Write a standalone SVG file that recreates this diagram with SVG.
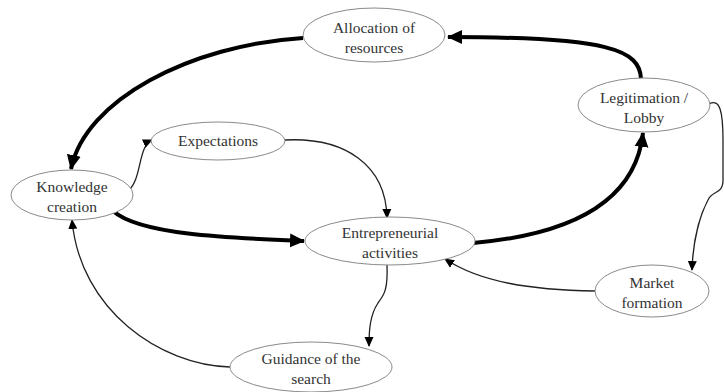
<svg xmlns="http://www.w3.org/2000/svg" width="724" height="392" viewBox="0 0 724 392">
<style>
.n ellipse{fill:#fff;stroke:#8a8a8a;stroke-width:1}
.n text{font-family:'Liberation Serif','DejaVu Serif',serif;font-size:15.5px;fill:#333;text-anchor:middle}
.thick{fill:none;stroke:#000;stroke-width:4}
.thin{fill:none;stroke:#222;stroke-width:1.3}
</style>
<defs>
<marker id="ab" markerUnits="userSpaceOnUse" markerWidth="16" markerHeight="16" viewBox="0 0 16 16" refX="14" refY="8" orient="auto">
<path d="M0,1 L15,8 L0,15 Z" fill="#000"/>
</marker>
<marker id="as" markerUnits="userSpaceOnUse" markerWidth="10" markerHeight="10" viewBox="0 0 10 10" refX="9" refY="5" orient="auto">
<path d="M0,0.5 L10,5 L0,9.5 Z" fill="#000"/>
</marker>
</defs>
<g id="connectors">
<path class="thick" d="M641 79 C640 50 610 37 448 37" marker-end="url(#ab)"/>
<path class="thick" d="M303 38 C190 45 85 100 71 169" marker-end="url(#ab)"/>
<path class="thick" d="M113 211 C140 235 230 238 304 241" marker-end="url(#ab)"/>
<path class="thick" d="M473 243 C565 235 635 205 643 133" marker-end="url(#ab)"/>
<path class="thin" d="M129 190 C142 178 138 146 152 140" marker-end="url(#as)"/>
<path class="thin" d="M285 140 C345 137 386 165 387 218" marker-end="url(#as)"/>
<path class="thin" d="M709 104 C720 98 723 112 723 140 L723 180 C723 195 712 190 708 200 C700 215 693 240 692 270" marker-end="url(#as)"/>
<path class="thin" d="M595 291 C530 290 480 282 445 259" marker-end="url(#as)"/>
<path class="thin" d="M387 265 C388 290 384 295 378 303 C370 315 369 330 369 346" marker-end="url(#as)"/>
<path class="thin" d="M230 367 C160 365 80 310 72 220" marker-end="url(#as)"/>
</g>
<g id="allocation" class="n"><ellipse cx="374" cy="35" rx="71" ry="27"/><text x="374" y="33">Allocation of</text><text x="374" y="53">resources</text></g>
<g id="legitimation" class="n"><ellipse cx="644" cy="105" rx="66" ry="27"/><text x="644" y="103">Legitimation /</text><text x="644" y="123">Lobby</text></g>
<g id="knowledge" class="n"><ellipse cx="72" cy="195" rx="61" ry="25"/><text x="72" y="192">Knowledge</text><text x="72" y="212">creation</text></g>
<g id="expectations" class="n"><ellipse cx="218" cy="141" rx="67" ry="19"/><text x="218" y="146">Expectations</text></g>
<g id="entrepreneurial" class="n"><ellipse cx="390" cy="241" rx="85" ry="24"/><text x="390" y="238">Entrepreneurial</text><text x="390" y="258">activities</text></g>
<g id="market" class="n"><ellipse cx="652" cy="291" rx="57" ry="26"/><text x="652" y="288">Market</text><text x="652" y="308">formation</text></g>
<g id="guidance" class="n"><ellipse cx="311" cy="367" rx="81" ry="25"/><text x="311" y="364">Guidance of the</text><text x="311" y="384">search</text></g>
</svg>
